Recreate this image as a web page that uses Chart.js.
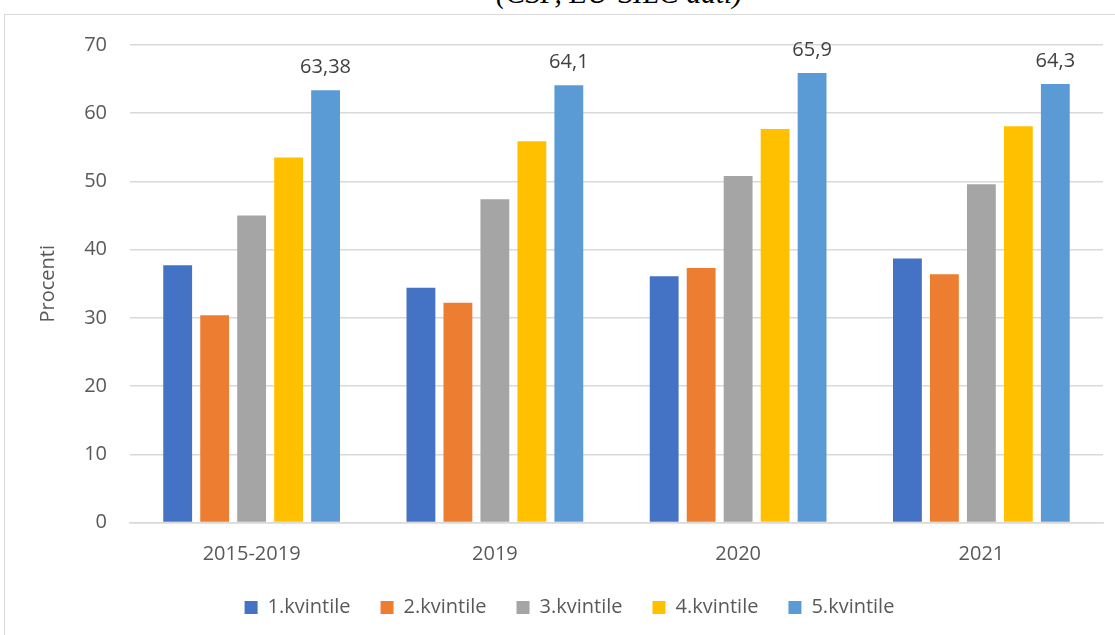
<!DOCTYPE html>
<html>
<head>
<meta charset="utf-8">
<script src="https://cdn.jsdelivr.net/npm/chart.js@4.4.1/dist/chart.umd.min.js"></script>
<style>
  html, body { margin: 0; padding: 0; background: #fff; overflow: hidden; }
  body { width: 1115px; height: 635px; position: relative; }
  #heading {
    position: absolute; left: 496px; top: -22px; white-space: nowrap;
    font-family: "Liberation Serif", "DejaVu Serif", serif;
    font-style: italic; font-weight: normal; font-size: 29.5px; line-height: 30px; color: #000;
  }
  #frame {
    position: absolute; left: 4px; top: 14px; width: 1130px; height: 640px;
    border: 1px solid #d9d9d9; box-sizing: border-box;
  }
  #wrap { position: absolute; left: 5px; top: 10px; width: 1110px; height: 625px; }
</style>
</head>
<body>
<div id="heading">(CSP, EU-SILC dati)</div>
<div id="frame"></div>
<div id="wrap"><canvas id="chart"></canvas></div>
<script>
// =========================
// Data
// =========================
const periods = ["2015-2019", "2019", "2020", "2021"];
const seriesNames = ["1.kvintile", "2.kvintile", "3.kvintile", "4.kvintile", "5.kvintile"];
const q1 = [37.7, 34.4, 36.1, 38.7];
const q2 = [30.4, 32.2, 37.3, 36.4];
const q3 = [45.0, 47.4, 50.8, 49.6];
const q4 = [53.5, 55.9, 57.7, 58.1];
const q5 = [63.38, 64.1, 65.9, 64.3];
const yTicks = [0, 10, 20, 30, 40, 50, 60, 70];
const colors = ["#4472C4", "#ED7D31", "#A5A5A5", "#FFC000", "#5B9BD5"];

const textColor = "#595959";
const fontFamily = "'Open Sans', 'Noto Sans', sans-serif";

// value labels above the 5th quintile bars, decimal comma
const topLabels = {
  id: "topLabels",
  afterDatasetsDraw(chart) {
    const ctx = chart.ctx;
    const meta = chart.getDatasetMeta(4);
    ctx.save();
    ctx.font = "20px " + fontFamily;
    ctx.fillStyle = "#404040";
    ctx.textAlign = "center";
    ctx.textBaseline = "alphabetic";
    meta.data.forEach((bar, i) => {
      const txt = String(q5[i]).replace(".", ",");
      ctx.fillText(txt, bar.x, bar.y - 17);
    });
    ctx.restore();
  },
};

const series = [q1, q2, q3, q4, q5];

new Chart(document.getElementById("chart"), {
  type: "bar",
  data: {
    labels: periods,
    datasets: series.map((vals, i) => ({
      label: seriesNames[i],
      data: vals,
      backgroundColor: colors[i],
      categoryPercentage: 0.76,
      barPercentage: 0.78,
    })),
  },
  options: {
    responsive: true,
    maintainAspectRatio: false,
    animation: false,
    layout: { padding: { left: 31, right: 12, top: 24, bottom: 7.5 } },
    plugins: {
      tooltip: { enabled: false },
      legend: {
        position: "bottom",
        labels: {
          boxWidth: 13,
          boxHeight: 13,
          padding: 30,
          color: textColor,
          font: { family: fontFamily, size: 20 },
        },
      },
    },
    scales: {
      x: {
        grid: { display: false, drawTicks: false },
        border: { color: "#d9d9d9", width: 1.5 },
        ticks: { color: textColor, font: { family: fontFamily, size: 20 }, padding: 20 },
        afterFit(scale) { scale.height = 45; },
      },
      y: {
        min: yTicks[0],
        max: yTicks[yTicks.length - 1],
        afterBuildTicks(scale) { scale.ticks = yTicks.map((v) => ({ value: v })); },
        ticks: { color: textColor, font: { family: fontFamily, size: 20 }, padding: 23 },
        grid: { color: "#d9d9d9", lineWidth: 1.5, drawTicks: false },
        border: { display: false },
        title: {
          display: true,
          text: "Procenti",
          color: textColor,
          font: { family: fontFamily, size: 20 },
          padding: { top: 0, bottom: 0 },
        },
        afterFit(scale) { scale.width = 94; },
      },
    },
  },
  plugins: [topLabels],
});
</script>
</body>
</html>
